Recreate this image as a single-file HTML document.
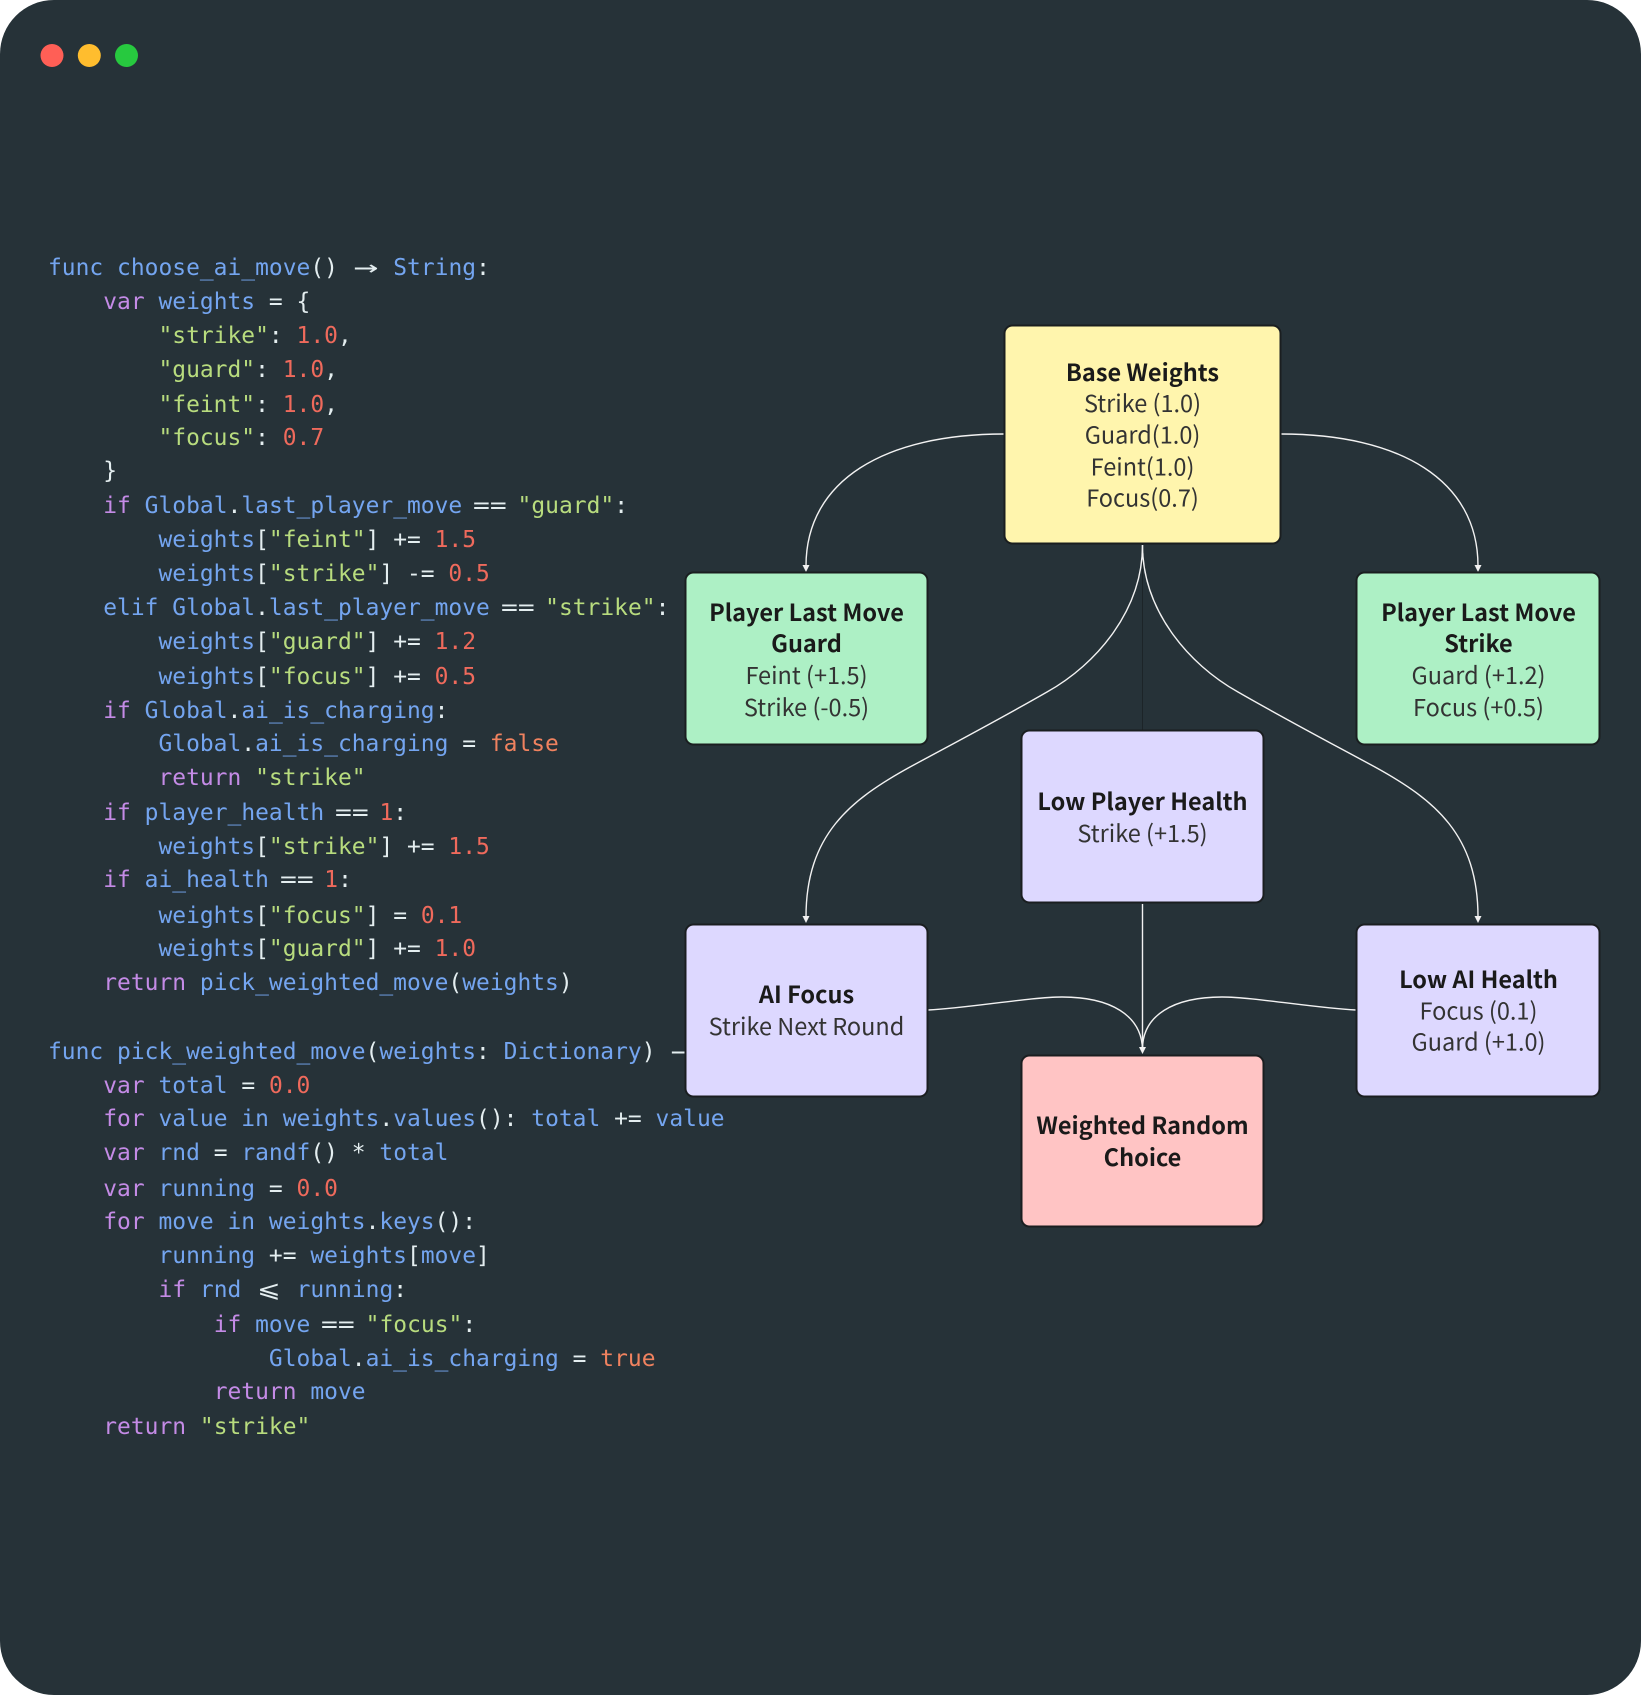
<!DOCTYPE html>
<html><head><meta charset="utf-8"><style>
html,body{margin:0;padding:0;background:#fff;width:1641px;height:1695px;overflow:hidden}
#w{position:relative;width:1641px;height:1695px;background:#263238;border-radius:54px;overflow:hidden}
.l{position:absolute;left:48px;margin-top:1px;white-space:pre;font:22.9px/34px "DejaVu Sans Mono","Liberation Mono",monospace;letter-spacing:.025px;color:#e4eef0;height:34px}
.b{color:#74a5f0}.p{color:#c48be6}.g{color:#b8dc7e}.n{color:#ef6a5c}.o{color:#f0825f}
.w2{display:inline-block;width:27.7px;text-align:center}
.a{transform:scale(1.8,1.1)}
.e{transform:scaleX(1.22)}
svg{position:absolute;left:0;top:0}
.t{font-family:"Noto Sans CJK JP","DejaVu Sans",sans-serif;font-size:23.5px;text-anchor:middle;fill:#333}
.h{font-weight:700;fill:#1a1a1a}
</style></head><body><div id="w">
<div class="l" style="top:250px"><span class="b">func choose_ai_move</span>() <span class="w2 a">→</span> <span class="b">String</span>:</div>
<div class="l" style="top:284px">    <span class="p">var</span> <span class="b">weights</span> = {</div>
<div class="l" style="top:318px">        <span class="g">"strike"</span>: <span class="n">1.0</span>,</div>
<div class="l" style="top:352px">        <span class="g">"guard"</span>: <span class="n">1.0</span>,</div>
<div class="l" style="top:387px">        <span class="g">"feint"</span>: <span class="n">1.0</span>,</div>
<div class="l" style="top:420px">        <span class="g">"focus"</span>: <span class="n">0.7</span></div>
<div class="l" style="top:453px">    }</div>
<div class="l" style="top:488px">    <span class="p">if</span> <span class="b">Global</span>.<span class="b">last_player_move</span> <span class="w2 e">==</span> <span class="g">"guard"</span>:</div>
<div class="l" style="top:522px">        <span class="b">weights</span>[<span class="g">"feint"</span>] += <span class="n">1.5</span></div>
<div class="l" style="top:556px">        <span class="b">weights</span>[<span class="g">"strike"</span>] -= <span class="n">0.5</span></div>
<div class="l" style="top:590px">    <span class="b">elif Global</span>.<span class="b">last_player_move</span> <span class="w2 e">==</span> <span class="g">"strike"</span>:</div>
<div class="l" style="top:624px">        <span class="b">weights</span>[<span class="g">"guard"</span>] += <span class="n">1.2</span></div>
<div class="l" style="top:659px">        <span class="b">weights</span>[<span class="g">"focus"</span>] += <span class="n">0.5</span></div>
<div class="l" style="top:693px">    <span class="p">if</span> <span class="b">Global</span>.<span class="b">ai_is_charging</span>:</div>
<div class="l" style="top:726px">        <span class="b">Global</span>.<span class="b">ai_is_charging</span> = <span class="o">false</span></div>
<div class="l" style="top:760px">        <span class="p">return</span> <span class="g">"strike"</span></div>
<div class="l" style="top:795px">    <span class="p">if</span> <span class="b">player_health</span> <span class="w2 e">==</span> <span class="n">1</span>:</div>
<div class="l" style="top:829px">        <span class="b">weights</span>[<span class="g">"strike"</span>] += <span class="n">1.5</span></div>
<div class="l" style="top:862px">    <span class="p">if</span> <span class="b">ai_health</span> <span class="w2 e">==</span> <span class="n">1</span>:</div>
<div class="l" style="top:898px">        <span class="b">weights</span>[<span class="g">"focus"</span>] = <span class="n">0.1</span></div>
<div class="l" style="top:931px">        <span class="b">weights</span>[<span class="g">"guard"</span>] += <span class="n">1.0</span></div>
<div class="l" style="top:965px">    <span class="p">return</span> <span class="b">pick_weighted_move</span>(<span class="b">weights</span>)</div>
<div class="l" style="top:1034px"><span class="b">func pick_weighted_move</span>(<span class="b">weights</span>: <span class="b">Dictionary</span>) <span class="w2 a">→</span> <span class="b">String</span>:</div>
<div class="l" style="top:1068px">    <span class="p">var</span> <span class="b">total</span> = <span class="n">0.0</span></div>
<div class="l" style="top:1101px">    <span class="p">for</span> <span class="b">value in weights</span>.<span class="b">values</span>(): <span class="b">total</span> += <span class="b">value</span></div>
<div class="l" style="top:1135px">    <span class="p">var</span> <span class="b">rnd</span> = <span class="b">randf</span>() * <span class="b">total</span></div>
<div class="l" style="top:1171px">    <span class="p">var</span> <span class="b">running</span> = <span class="n">0.0</span></div>
<div class="l" style="top:1204px">    <span class="p">for</span> <span class="b">move in weights</span>.<span class="b">keys</span>():</div>
<div class="l" style="top:1238px">        <span class="b">running</span> += <span class="b">weights</span>[<span class="b">move</span>]</div>
<div class="l" style="top:1272px">        <span class="p">if</span> <span class="b">rnd</span> <span class="w2 e">⩽</span> <span class="b">running</span>:</div>
<div class="l" style="top:1307px">            <span class="p">if</span> <span class="b">move</span> <span class="w2 e">==</span> <span class="g">"focus"</span>:</div>
<div class="l" style="top:1341px">                <span class="b">Global</span>.<span class="b">ai_is_charging</span> = <span class="o">true</span></div>
<div class="l" style="top:1374px">            <span class="p">return</span> <span class="b">move</span></div>
<div class="l" style="top:1409px">    <span class="p">return</span> <span class="g">"strike"</span></div>
<svg width="1641" height="1695" viewBox="0 0 1641 1695">
<circle cx="52" cy="55.5" r="11.5" fill="#ff5f56"/><circle cx="89.300" cy="55.500" r="11.500" fill="#ffbd2e"/><circle cx="126.500" cy="55.500" r="11.500" fill="#27c93f"/>
<g fill="none" stroke="#1c2428" stroke-width="1"><path d="M1142.500,544V731"/></g>
<g fill="none" stroke="#f2f2f2" stroke-width="1.400">
<path d="M1004,434C885,434 806,480 806,566"/>
<path d="M1281,434C1400,434 1478,480 1478,566"/>
<path d="M1142.500,545C1142.500,610 1097,664 1047,692C1000,719 960,740 910,767C850,800 806,835 806,917"/>
<path d="M1142.500,545C1142.500,610 1188,664 1238,692C1285,719 1325,740 1375,767C1435,800 1478,835 1478,917"/>
<path d="M1142.500,904V1050"/>
<path d="M928,1010C970,1008 1030,997 1062,997C1110,997 1142,1015 1142.500,1050"/>
<path d="M1356,1010C1314,1008 1254,997 1222,997C1174,997 1142,1015 1142.500,1050"/>
</g>
<g fill="#f2f2f2">
<path d="M802.500,565h7l-3.500,7z"/><path d="M1474.500,565h7l-3.500,7z"/>
<path d="M802.500,916h7l-3.500,7z"/><path d="M1474.500,916h7l-3.500,7z"/>
<path d="M1139,1047h7l-3.500,7z"/>
</g>
<g stroke="#1a1e20" stroke-width="2">
<rect x="1004.500" y="325.500" width="276" height="218" rx="8" fill="#fff5ad"/>
<rect x="685.500" y="572.500" width="242" height="172" rx="8" fill="#adf0c5"/>
<rect x="1356.500" y="572.500" width="243" height="172" rx="8" fill="#adf0c5"/>
<rect x="1021.500" y="730.500" width="242" height="172" rx="8" fill="#ddd8ff"/>
<rect x="685.500" y="924.500" width="242" height="172" rx="8" fill="#ddd8ff"/>
<rect x="1356.500" y="924.500" width="243" height="172" rx="8" fill="#ddd8ff"/>
<rect x="1021.500" y="1055.500" width="242" height="171" rx="8" fill="#ffc4c4"/>
</g>
<text class="t h" x="1142.500" y="381">Base Weights</text>
<text class="t" x="1142.500" y="412">Strike (1.0)</text>
<text class="t" x="1142.500" y="443.500">Guard(1.0)</text>
<text class="t" x="1142.500" y="475.500">Feint(1.0)</text>
<text class="t" x="1142.500" y="506.500">Focus(0.7)</text>
<text class="t h" x="806.500" y="621">Player Last Move</text>
<text class="t h" x="806.500" y="652">Guard</text>
<text class="t" x="806.500" y="684">Feint (+1.5)</text>
<text class="t" x="806.500" y="716">Strike (-0.5)</text>
<text class="t h" x="1478.500" y="621">Player Last Move</text>
<text class="t h" x="1478.500" y="652">Strike</text>
<text class="t" x="1478.500" y="684">Guard (+1.2)</text>
<text class="t" x="1478.500" y="716">Focus (+0.5)</text>
<text class="t h" x="1142.500" y="810">Low Player Health</text>
<text class="t" x="1142.500" y="842">Strike (+1.5)</text>
<text class="t h" x="806.500" y="1003">AI Focus</text>
<text class="t" x="806.500" y="1035">Strike Next Round</text>
<text class="t h" x="1478.500" y="988">Low AI Health</text>
<text class="t" x="1478.500" y="1019.500">Focus (0.1)</text>
<text class="t" x="1478.500" y="1050.500">Guard (+1.0)</text>
<text class="t h" x="1142.500" y="1134">Weighted Random</text>
<text class="t h" x="1142.500" y="1166">Choice</text>
</svg>
</div></body></html>
